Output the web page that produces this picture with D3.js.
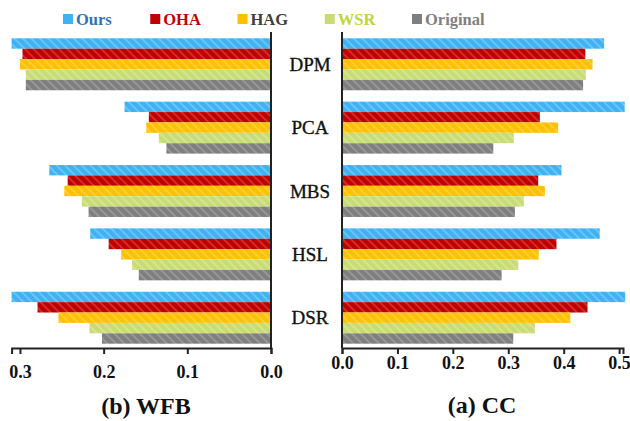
<!DOCTYPE html>
<html>
<head>
<meta charset="utf-8">
<script src="https://cdn.jsdelivr.net/npm/d3@7"></script>
<style>
  body { margin: 0; background: #fff; }
  text { font-family: "Liberation Serif", serif; }
</style>
</head>
<body>
<div id="chart"></div>
<script>
const categories = ["DPM", "PCA", "MBS", "HSL", "DSR"];
const series = ["Ours", "OHA", "HAG", "WSR", "Original"];

// WFB panel (left, reversed axis)
const wfbOurs     = [0.310, 0.175, 0.265, 0.216, 0.310];
const wfbOHA      = [0.297, 0.146, 0.243, 0.194, 0.279];
const wfbHAG      = [0.300, 0.149, 0.247, 0.179, 0.254];
const wfbWSR      = [0.293, 0.134, 0.226, 0.166, 0.217];
const wfbOriginal = [0.293, 0.125, 0.218, 0.158, 0.202];

// CC panel (right)
const ccOurs     = [0.473, 0.510, 0.396, 0.465, 0.511];
const ccOHA      = [0.439, 0.357, 0.354, 0.387, 0.443];
const ccHAG      = [0.452, 0.390, 0.366, 0.355, 0.412];
const ccWSR      = [0.440, 0.310, 0.328, 0.318, 0.348];
const ccOriginal = [0.435, 0.273, 0.312, 0.288, 0.309];

const wfbTicks = [0, 0.1, 0.2, 0.3];
const ccTicks = [0, 0.1, 0.2, 0.3, 0.4, 0.5];

const wfbSeries = [wfbOurs, wfbOHA, wfbHAG, wfbWSR, wfbOriginal];
const ccSeries = [ccOurs, ccOHA, ccHAG, ccWSR, ccOriginal];

const barColors = ["#3fb2f5", "#c00000", "#ffc000", "#c8dc76", "#7f7f7f"];
const stripeColors = ["#86d0fb", "#d94a4a", "#ffd65c", "#dde9a6", "#a6a6a6"];
const legendColors = ["#2e75b6", "#c00000", "#404040", "#bed43a", "#808080"];

const width = 630, height = 421;

const svg = d3.select("#chart").append("svg")
  .attr("width", width)
  .attr("height", height);

// striped fills
const defs = svg.append("defs");
series.forEach((s, i) => {
  const p = defs.append("pattern")
    .attr("id", "stripe" + i)
    .attr("patternUnits", "userSpaceOnUse")
    .attr("width", 6)
    .attr("height", 6)
    .attr("patternTransform", "rotate(-45)");
  p.append("rect").attr("width", 6).attr("height", 6).attr("fill", barColors[i]);
  p.append("rect").attr("width", 2).attr("height", 6).attr("fill", stripeColors[i]).attr("opacity", 0.6);
});

const y = d3.scaleBand().domain(categories).range([38.3, 343.7]).paddingInner(0.18).paddingOuter(0);
const ySub = d3.scaleBand().domain(series).range([0, y.bandwidth()]);

const xLeft = d3.scaleLinear().domain([0, 0.31]).range([271, 11.6]);
const xRight = d3.scaleLinear().domain([0, 0.507]).range([342, 623]);

const axisY = 348;

function drawPanel(x, data, side) {
  const g = svg.append("g");
  categories.forEach((c, ci) => {
    series.forEach((s, si) => {
      const v = data[si][ci];
      g.append("rect")
        .attr("x", side === "left" ? x(v) : x(0))
        .attr("width", Math.abs(x(v) - x(0)))
        .attr("y", y(c) + ySub(s))
        .attr("height", ySub.bandwidth())
        .attr("fill", `url(#stripe${si})`);
    });
  });
  g.append("line")
    .attr("x1", x(0)).attr("x2", x(0))
    .attr("y1", 32).attr("y2", axisY)
    .attr("stroke", "#222")
    .attr("stroke-width", 2);
}

drawPanel(xLeft, wfbSeries, "left");
drawPanel(xRight, ccSeries, "right");

// bottom axes
const leftAxis = svg.append("g")
  .attr("transform", `translate(0,${axisY})`)
  .call(d3.axisBottom(xLeft).tickValues(wfbTicks).tickFormat(d3.format(".1f")).tickSizeOuter(0).tickSize(6).tickPadding(11.5));

const rightAxis = svg.append("g")
  .attr("transform", `translate(0,${axisY})`)
  .call(d3.axisBottom(xRight).tickValues(ccTicks).tickFormat(d3.format(".1f")).tickSizeOuter(0).tickSize(6).tickPadding(2.5));

[leftAxis, rightAxis].forEach(a => {
  a.attr("font-family", null);
  a.select(".domain").attr("stroke", "#222").attr("stroke-width", 2);
  a.selectAll(".tick line").attr("stroke", "#222").attr("stroke-width", 2);
  a.selectAll(".tick text")
    .attr("fill", "#111")
    .style("font-size", "18px")
    .style("font-weight", "bold");
});

// category labels
svg.selectAll(".cat")
  .data(categories)
  .enter().append("text")
  .attr("class", "cat")
  .attr("x", 310)
  .attr("y", d => y(d) + y.bandwidth() / 2)
  .attr("dy", "0.35em")
  .attr("text-anchor", "middle")
  .attr("fill", "#111")
  .attr("stroke", "#111")
  .attr("stroke-width", 0.35)
  .style("font-size", "19px")
  .text(d => d);

// panel titles
svg.append("text")
  .attr("x", 146).attr("y", 414)
  .attr("text-anchor", "middle")
  .attr("fill", "#111")
  .style("font-size", "24px").style("font-weight", "bold")
  .text("(b) WFB");

svg.append("text")
  .attr("x", 482).attr("y", 413)
  .attr("text-anchor", "middle")
  .attr("fill", "#111")
  .style("font-size", "24px").style("font-weight", "bold")
  .text("(a) CC");

// legend
const lx = d3.scalePoint().domain(series).range([63, 412]);
const legend = svg.selectAll(".legend")
  .data(series)
  .enter().append("g")
  .attr("class", "legend")
  .attr("transform", d => `translate(${lx(d)},14)`);

legend.append("rect")
  .attr("width", 10).attr("height", 10)
  .attr("fill", (d, i) => barColors[i]);

legend.append("text")
  .attr("x", 13).attr("y", 5)
  .attr("dy", "0.35em")
  .attr("fill", (d, i) => legendColors[i])
  .style("font-size", "16.5px").style("font-weight", "bold")
  .text(d => d);
</script>
</body>
</html>
